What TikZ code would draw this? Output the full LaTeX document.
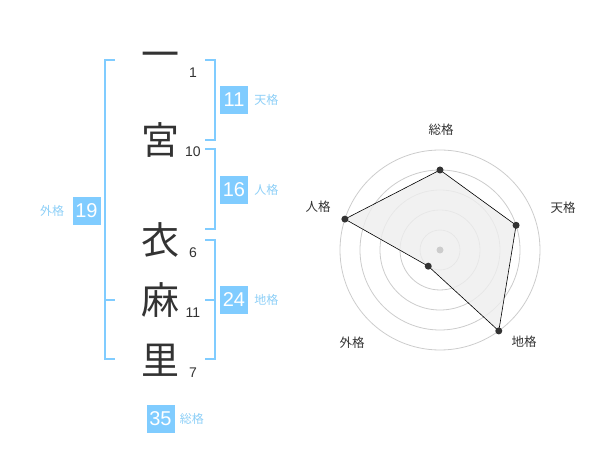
\documentclass[tikz,border=0pt]{standalone}
\usepackage{fontspec}
\setmainfont{Liberation Sans}
\newfontfamily\jpfont{Noto Sans CJK JP}
\usepackage{xcolor}
\usetikzlibrary{positioning}
\definecolor{KakuBlue}{HTML}{80CCFF}
\definecolor{KakuText}{HTML}{8DCFF7}
\definecolor{InkGray}{HTML}{333333}
\definecolor{RingGray}{HTML}{CCCCCC}
\definecolor{AreaGray}{HTML}{EEEEEE}

\begin{document}
\begin{tikzpicture}[x=1pt, y=-1pt,
    kanji/.style={text=InkGray, font=\jpfont\fontsize{38}{38}\selectfont, inner sep=0pt},
    stroke/.style={text=InkGray, font=\fontsize{14}{14}\selectfont, inner sep=0pt},
    kakubox/.style={fill=KakuBlue, text=white, minimum width=28pt, minimum height=28pt, inner sep=0pt, font=\fontsize{20}{20}\selectfont},
    kakulabel/.style={text=KakuText, font=\jpfont\fontsize{12}{12}\selectfont, inner sep=0pt},
    bracket/.style={KakuBlue, line width=2pt},
    axislabel/.style={text=InkGray, font=\jpfont\fontsize{12.5}{12.5}\selectfont, inner sep=0pt}]
      \useasboundingbox (0,0) rectangle (600,470);
      % Characters
      \node[kanji] (c1) at (160,60) {一};
      \node[kanji] (c2) at (160,140) {宮};
      \node[kanji] (c3) at (160,240) {衣};
      \node[kanji] (c4) at (160,300) {麻};
      \node[kanji] (c5) at (160,360) {里};
      % Stroke counts
      \node[stroke] (n1) at (193,73) {1};
      \node[stroke] (n2) at (193,152) {10};
      \node[stroke] (n3) at (193,253) {6};
      \node[stroke] (n4) at (193,313) {11};
      \node[stroke] (n5) at (193,373) {7};
      % Brackets
      \draw[bracket] (115,60) -- (105,60) -- (105,359) -- (115,359);
      \draw[bracket] (105,300) -- (115,300);
      \draw[bracket] (205,60) -- (215,60) -- (215,140) -- (205,140);
      \draw[bracket] (205,149) -- (215,149) -- (215,229) -- (205,229);
      \draw[bracket] (205,240) -- (215,240) -- (215,359) -- (205,359);
      \draw[bracket] (205,300) -- (215,300);
      % Boxes
      \node[kakubox] (ten) at (234,100) {11};
      \node[kakulabel, right=6pt of ten] (tenl) {天格};
      \node[kakubox] (jin) at (234,190) {16};
      \node[kakulabel, right=6pt of jin] (jinl) {人格};
      \node[kakubox] (chi) at (234,300) {24};
      \node[kakulabel, right=6pt of chi] (chil) {地格};
      \node[kakubox] (gai) at (86.5,211) {19};
      \node[kakulabel, left=8pt of gai] (gail) {外格};
      \node[kakubox] (sou) at (160.5,419) {35};
      \node[kakulabel, right=5pt of sou] (soul) {総格};
      % Radar
      \begin{scope}[shift={(440,250)}, yscale=-1]
        \foreach \r in {20,40,60,80,100}
          \draw[RingGray, line width=0.8pt] (0,0) circle (\r);
        \coordinate (psou) at (90:80);
        \coordinate (pten) at (18:80);
        \coordinate (pchi) at (-54:100);
        \coordinate (pgai) at (234:20);
        \coordinate (pjin) at (162:100);
        \filldraw[fill=AreaGray, fill opacity=0.8, draw=black, line width=0.6pt]
          (psou) -- (pten) -- (pchi) -- (pgai) -- (pjin) -- cycle;
        \fill[RingGray] (0,0) circle (3.5);
        \foreach \p in {psou,pten,pchi,pgai,pjin}
          \fill[InkGray] (\p) circle (3.5);
      \end{scope}
      \node[axislabel] (asou) at (441,130) {総格};
      \node[axislabel] (aten) at (563,208) {天格};
      \node[axislabel] (achi) at (524,342) {地格};
      \node[axislabel] (agai) at (352,343) {外格};
      \node[axislabel] (ajin) at (318,207) {人格};
\end{tikzpicture}
\end{document}
